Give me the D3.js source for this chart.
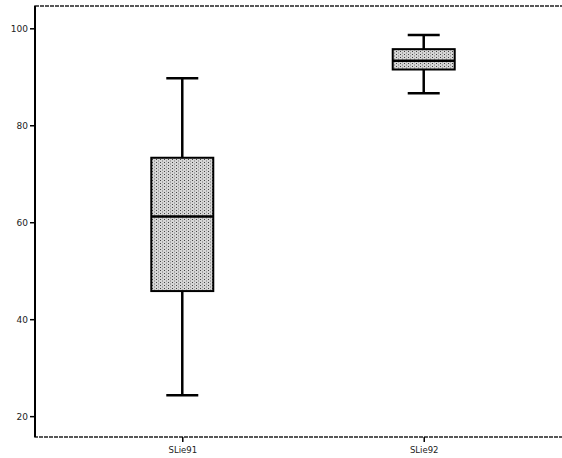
<!DOCTYPE html>
<html>
<head>
<meta charset="utf-8"/>
<script src="https://d3js.org/d3.v7.min.js"></script>
<style>
    body { margin: 0; background: #fff; }
    text { font-family: "DejaVu Sans", sans-serif; }
</style>
</head>
<body>
<svg width="562" height="458"></svg>
<script>
    // categorias y estadisticas
    const categorias = ["SLie91", "SLie92"];
    const minimos   = [24.3, 86.6];
    const cuartil1  = [45.8, 91.5];
    const medianas  = [61.2, 93.3];
    const cuartil3  = [73.3, 95.7];
    const maximos   = [89.7, 98.6];
    const yTicks = [20, 40, 60, 80, 100];

    const svg = d3.select("svg");
    const mIzq = 35, mSup = 6, mInf = 437, mDer = 571;

    let escalaY = d3.scaleLinear().domain([15.7, 104.6]).range([mInf, mSup]);
    let escalaX = d3.scalePoint().domain(categorias).range([mIzq, mDer]).padding(0.61);

    // patron punteado para las cajas
    const defs = svg.append("defs");
    const pat = defs.append("pattern")
        .attr("id", "puntos")
        .attr("width", 4).attr("height", 3)
        .attr("patternUnits", "userSpaceOnUse");
    pat.append("rect").attr("width", 4).attr("height", 3).attr("fill", "#d6d6d6");
    pat.append("rect").attr("x", 0).attr("y", 0).attr("width", 1).attr("height", 1).attr("fill", "#444");
    pat.append("rect").attr("x", 2).attr("y", 1.5).attr("width", 1).attr("height", 1).attr("fill", "#777");

    // marco
    svg.append("rect")
        .attr("x", mIzq).attr("y", mSup)
        .attr("width", mDer - mIzq).attr("height", mInf - mSup)
        .attr("fill", "none")
        .attr("stroke", "#222")
        .attr("stroke-width", 1.5)
        .attr("stroke-dasharray", "4,1");
    svg.append("line")
        .attr("x1", mIzq).attr("x2", mIzq).attr("y1", mSup).attr("y2", mInf)
        .attr("stroke", "#000").attr("stroke-width", 2);

    // eje y
    let ejeY = d3.axisLeft(escalaY).tickValues(yTicks).tickSize(5).tickPadding(2);
    const gy = svg.append("g")
        .attr("transform", "translate(" + mIzq + ",0)")
        .call(ejeY);
    gy.select(".domain").remove();
    gy.selectAll(".tick line").attr("stroke", "#000").attr("stroke-width", 1.5);
    gy.selectAll("text").style("font-size", "9px").attr("fill", "#222");

    // eje x
    let ejeX = d3.axisBottom(escalaX).tickSize(5).tickPadding(5);
    const gx = svg.append("g")
        .attr("transform", "translate(0," + mInf + ")")
        .call(ejeX);
    gx.select(".domain").remove();
    gx.selectAll(".tick line").attr("stroke", "#000").attr("stroke-width", 1.5);
    gx.selectAll("text").style("font-size", "8.5px").attr("fill", "#222");

    const anchoCaja = 62, anchoTope = 32;
    const datos = categorias.map((c, i) => ({
        c: c, min: minimos[i], q1: cuartil1[i], med: medianas[i], q3: cuartil3[i], max: maximos[i]
    }));

    const cajas = svg.selectAll("g.caja").data(datos).enter()
        .append("g").attr("class", "caja");

    // bigotes
    cajas.append("line")
        .attr("x1", d => escalaX(d.c)).attr("x2", d => escalaX(d.c))
        .attr("y1", d => escalaY(d.max)).attr("y2", d => escalaY(d.q3))
        .attr("stroke", "#000").attr("stroke-width", 2.5);
    cajas.append("line")
        .attr("x1", d => escalaX(d.c)).attr("x2", d => escalaX(d.c))
        .attr("y1", d => escalaY(d.q1)).attr("y2", d => escalaY(d.min))
        .attr("stroke", "#000").attr("stroke-width", 2.5);
    // topes
    cajas.selectAll("line.tope").data(d => [[d.c, d.max], [d.c, d.min]]).enter()
        .append("line").attr("class", "tope")
        .attr("x1", d => escalaX(d[0]) - anchoTope / 2)
        .attr("x2", d => escalaX(d[0]) + anchoTope / 2)
        .attr("y1", d => escalaY(d[1])).attr("y2", d => escalaY(d[1]))
        .attr("stroke", "#000").attr("stroke-width", 2.5);

    // caja
    cajas.append("rect")
        .attr("x", d => escalaX(d.c) - anchoCaja / 2)
        .attr("y", d => escalaY(d.q3))
        .attr("width", anchoCaja)
        .attr("height", d => escalaY(d.q1) - escalaY(d.q3))
        .attr("fill", "url(#puntos)")
        .attr("stroke", "#000").attr("stroke-width", 2);

    // mediana
    cajas.append("line")
        .attr("x1", d => escalaX(d.c) - anchoCaja / 2)
        .attr("x2", d => escalaX(d.c) + anchoCaja / 2)
        .attr("y1", d => escalaY(d.med)).attr("y2", d => escalaY(d.med))
        .attr("stroke", "#000").attr("stroke-width", 2.5);
</script>
</body>
</html>
